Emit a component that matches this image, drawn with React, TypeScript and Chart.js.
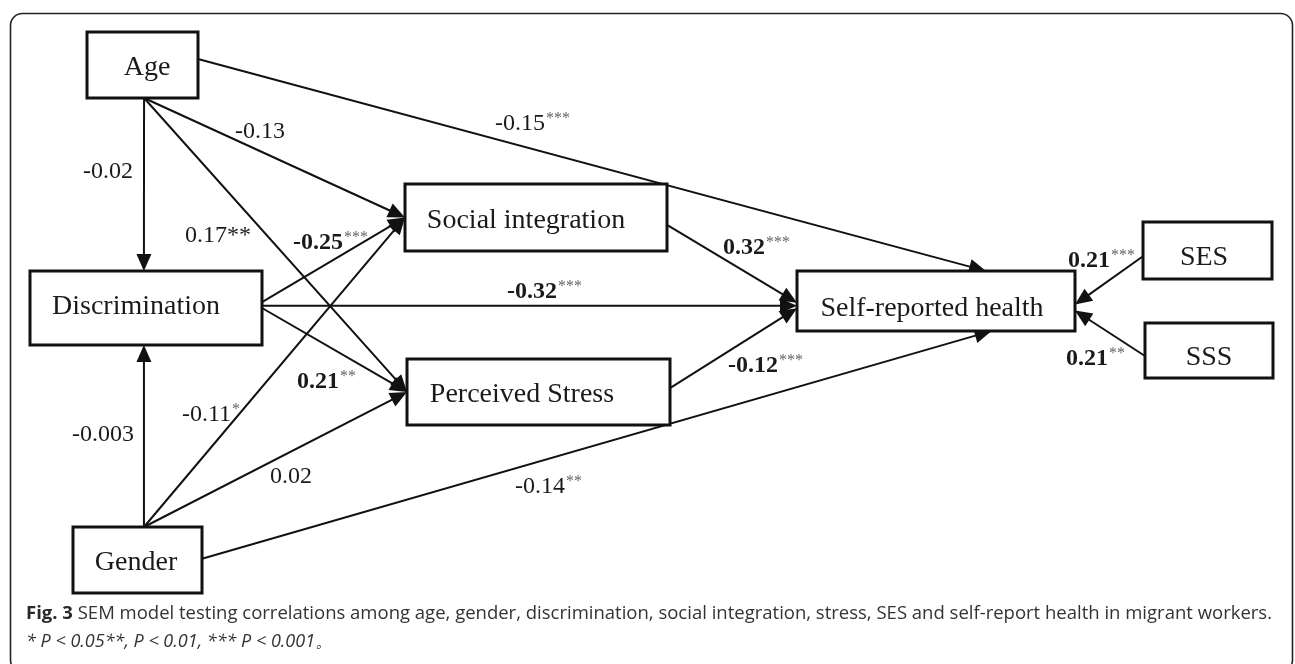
import React, { useEffect, useRef } from "react";
import { Chart, registerables } from "chart.js";

Chart.register(...registerables);

// ---- nodes (diagram units: x 0..1295, y 0..664 top-down) ----
const nodeNames = [
  "Age",
  "Discrimination",
  "Gender",
  "Social integration",
  "Perceived Stress",
  "Self-reported health",
  "SES",
  "SSS",
];
const nodeX = [142.5, 146, 137.5, 536, 538.5, 936, 1207.5, 1209];
const nodeY = [65, 308, 560, 217.5, 392, 301, 250.5, 350.5];
const nodeW = [111, 232, 129, 262, 263, 278, 129, 128];
const nodeH = [66, 74, 66, 67, 66, 60, 57, 55];
const textDx = [4.5, -10, -1.5, -10, -16.5, -4, -3.5, 0];
const textDy = [10, 6, 10, 10.5, 10, 15, 14.5, 14.5];

// ---- paths ----
const edgeFrom = [0, 2, 0, 0, 0, 1, 1, 1, 2, 2, 2, 3, 4, 6, 7];
const edgeTo = [1, 1, 3, 4, 5, 3, 5, 4, 3, 4, 5, 5, 5, 5, 5];
const coefficients = [-0.02, -0.003, -0.13, 0.17, -0.15, -0.25, -0.32, 0.21, -0.11, 0.02, -0.14, 0.32, -0.12, 0.21, 0.21];
const significance = ["", "", "", "**", "***", "***", "***", "**", "*", "", "**", "***", "***", "***", "**"];
const boldCoef = [false, false, false, false, false, true, true, true, false, false, false, true, true, true, true];
const superStars = [true, true, true, false, true, true, true, true, true, true, true, true, true, true, true];

// anchor fractions on the boxes
const fromFx = [0.514, 0.55, 0.514, 0.514, 1, 1, 1, 1, 0.55, 0.55, 1, 1, 1, 0, 0];
const fromFy = [1, 0, 1, 1, 0.41, 0.42, 0.47, 0.5, 0, 0, 0.48, 0.61, 0.44, 0.6, 0.6];
const toFx = [0.491, 0.491, 0, 0, 0.68, 0, 0, 0, 0, 0, 0.7, 0, 0, 1, 1];
const toFy = [0, 1, 0.5, 0.5, 0, 0.5, 0.58, 0.5, 0.5, 0.5, 1, 0.53, 0.62, 0.56, 0.66];

// label anchors (left, baseline)
const labelX = [83, 72, 235, 185, 495, 293, 507, 297, 182, 270, 515, 723, 728, 1068, 1066];
const labelY = [178, 441, 138, 242, 130, 249, 298, 388, 421, 483, 493, 254, 372, 267, 365];

// ---- caption ----
const captionBold = "Fig. 3";
const captionLine1 =
  " SEM model testing correlations among age, gender, discrimination, social integration, stress, SES and self-report health in migrant workers.";
const captionLine2 = "* P < 0.05**, P < 0.01, *** P < 0.001\u3002";

const SERIF = '"Liberation Serif", "Times New Roman", serif';
const SANS = '"Open Sans", "Noto Sans", sans-serif';

const diagramPlugin = {
  id: "semDiagram",
  afterDatasetsDraw(chart: any) {
    const { ctx } = chart;
    const xs = chart.scales.x;
    const ys = chart.scales.y;
    const px = (v: number) => xs.getPixelForValue(v);
    const py = (v: number) => ys.getPixelForValue(v);

    ctx.save();

    // outer frame
    const fx0 = px(10.5), fy0 = py(13.5), fx1 = px(1292.5), fy1 = py(672);
    const r = 12;
    ctx.beginPath();
    ctx.moveTo(fx0 + r, fy0);
    ctx.lineTo(fx1 - r, fy0);
    ctx.arcTo(fx1, fy0, fx1, fy0 + r, r);
    ctx.lineTo(fx1, fy1 - r);
    ctx.arcTo(fx1, fy1, fx1 - r, fy1, r);
    ctx.lineTo(fx0 + r, fy1);
    ctx.arcTo(fx0, fy1, fx0, fy1 - r, r);
    ctx.lineTo(fx0, fy0 + r);
    ctx.arcTo(fx0, fy0, fx0 + r, fy0, r);
    ctx.closePath();
    ctx.strokeStyle = "#222";
    ctx.lineWidth = 1.6;
    ctx.stroke();

    const anchor = (n: number, fx: number, fy: number) => ({
      x: px(nodeX[n] - nodeW[n] / 2 + fx * nodeW[n]),
      y: py(nodeY[n] - nodeH[n] / 2 + fy * nodeH[n]),
    });

    // edges
    const AL = 17, AW = 7.5;
    edgeFrom.forEach((f, i) => {
      const t = edgeTo[i];
      const a = anchor(f, fromFx[i], fromFy[i]);
      const b = anchor(t, toFx[i], toFy[i]);
      const dx = b.x - a.x, dy = b.y - a.y;
      const len = Math.hypot(dx, dy);
      const ux = dx / len, uy = dy / len;
      const bx = b.x - ux * AL, by = b.y - uy * AL;
      ctx.beginPath();
      ctx.moveTo(a.x, a.y);
      ctx.lineTo(bx + ux * 2, by + uy * 2);
      ctx.strokeStyle = "#111";
      ctx.lineWidth = 2;
      ctx.stroke();
      ctx.beginPath();
      ctx.moveTo(b.x, b.y);
      ctx.lineTo(bx - uy * AW, by + ux * AW);
      ctx.lineTo(bx + uy * AW, by - ux * AW);
      ctx.closePath();
      ctx.fillStyle = "#111";
      ctx.fill();
    });

    // boxes
    nodeNames.forEach((name, n) => {
      const x0 = px(nodeX[n] - nodeW[n] / 2);
      const y0 = py(nodeY[n] - nodeH[n] / 2);
      const x1 = px(nodeX[n] + nodeW[n] / 2);
      const y1 = py(nodeY[n] + nodeH[n] / 2);
      ctx.fillStyle = "#fff";
      ctx.fillRect(x0, y0, x1 - x0, y1 - y0);
      ctx.strokeStyle = "#111";
      ctx.lineWidth = 3;
      ctx.strokeRect(x0, y0, x1 - x0, y1 - y0);
      ctx.fillStyle = "#1a1a1a";
      ctx.font = `28px ${SERIF}`;
      ctx.textAlign = "center";
      ctx.textBaseline = "alphabetic";
      ctx.fillText(name, px(nodeX[n] + textDx[n]), py(nodeY[n] + textDy[n]));
    });

    // coefficient labels
    coefficients.forEach((c, i) => {
      const txt = c.toString();
      const lx = px(labelX[i]);
      const ly = py(labelY[i]);
      ctx.textAlign = "left";
      ctx.textBaseline = "alphabetic";
      ctx.fillStyle = "#1a1a1a";
      ctx.font = `${boldCoef[i] ? "bold " : ""}24px ${SERIF}`;
      ctx.fillText(txt, lx, ly);
      const w = ctx.measureText(txt).width;
      const stars = significance[i];
      if (stars) {
        if (superStars[i]) {
          ctx.font = `16px ${SERIF}`;
          ctx.fillStyle = "#666";
          ctx.fillText(stars, lx + w + 1, ly - 7);
        } else {
          ctx.font = `24px ${SERIF}`;
          ctx.fillStyle = "#1a1a1a";
          ctx.fillText(stars, lx + w, ly);
        }
      }
    });

    // caption
    const cx = px(26);
    ctx.textAlign = "left";
    ctx.textBaseline = "alphabetic";
    ctx.fillStyle = "#2a2a2a";
    ctx.font = `bold 18.5px ${SANS}`;
    ctx.fillText(captionBold, cx, py(619));
    const bw = ctx.measureText(captionBold).width;
    ctx.fillStyle = "#333";
    ctx.font = `18.5px ${SANS}`;
    ctx.fillText(captionLine1, cx + bw, py(619));
    ctx.font = `italic 18px ${SANS}`;
    ctx.fillText(captionLine2, cx, py(647));

    ctx.restore();
  },
};

export default function App() {
  const canvasRef = useRef<HTMLCanvasElement | null>(null);

  useEffect(() => {
    if (!canvasRef.current) return;
    const chart = new Chart(canvasRef.current, {
      type: "scatter",
      data: {
        datasets: [
          {
            label: "nodes",
            data: nodeX.map((x, i) => ({ x, y: nodeY[i] })),
            pointRadius: 0,
            pointHoverRadius: 0,
          },
        ],
      },
      options: {
        animation: false,
        responsive: true,
        maintainAspectRatio: false,
        layout: { padding: 0 },
        events: [],
        plugins: {
          legend: { display: false },
          tooltip: { enabled: false },
          title: { display: false },
        },
        scales: {
          x: { type: "linear", min: 0, max: 1295, display: false },
          y: { type: "linear", min: 0, max: 664, reverse: true, display: false },
        },
      },
      plugins: [diagramPlugin],
    });
    return () => chart.destroy();
  }, []);

  return (
    <div style={{ position: "fixed", left: 0, top: 0, width: 1295, height: 664, background: "#fff" }}>
      <canvas ref={canvasRef} />
    </div>
  );
}
